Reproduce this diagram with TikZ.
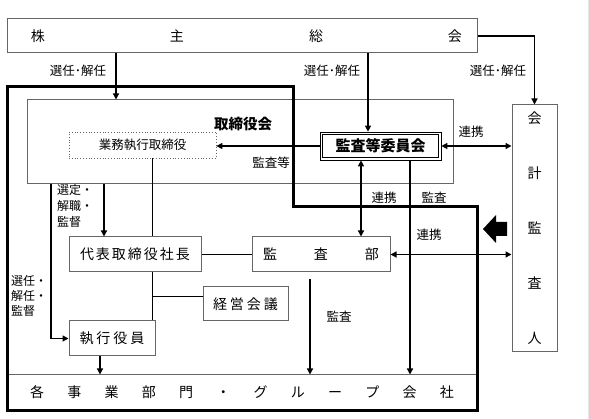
\documentclass[tikz,border=0pt]{standalone}
\usepackage{fontspec}
\setmainfont{Noto Sans CJK JP}
\usetikzlibrary{arrows.meta}
\definecolor{boxgray}{gray}{0.4}
\begin{document}
\begin{tikzpicture}[x=1pt,y=-1pt,
  bx/.style 2 args={draw=boxgray, line width=1pt, minimum width=#1, minimum height=#2, inner sep=0pt},
  lbl/.style={font=\fontsize{12.5}{15}\selectfont, inner sep=0pt},
  arr/.style={line width=1.3pt, -{Triangle[length=6pt,width=6pt]}},
  darr/.style={line width=1.3pt, {Triangle[length=6pt,width=6pt]}-{Triangle[length=6pt,width=6pt]}},
  ln/.style={line width=0.9pt},
  big/.style={font=\fontsize{14}{14}\selectfont}]
\useasboundingbox (0,0) rectangle (589,419);
\draw[black!10] (588,0) -- (588,419);
% boxes
\node[bx={470pt}{34pt}, big] (gm) at (242,36) {\makebox[440pt][s]{\hspace{9pt}株\hfil 主\hfil 総\hfil 会}};
\node[bx={426pt}{84pt}] (board) at (240,142) {};
\node[inner sep=0pt, font=\fontsize{14.5}{14.5}\selectfont\bfseries] (boardlbl) at (243,124) {取締役会};
\node[draw=boxgray, dotted, line width=0.8pt, minimum width=147pt, minimum height=26pt, inner sep=0pt, font=\fontsize{12.5}{12.5}\selectfont] (ed) at (142.5,145) {業務執行取締役};
\node[draw=black, line width=0.7pt, minimum width=121pt, minimum height=28pt, inner sep=0pt, font=\fontsize{15}{15}\selectfont\bfseries] (ac) at (380.5,146) {監査等委員会};
\draw[line width=1.6pt] ([shift={(3pt,3pt)}]ac.south west) rectangle ([shift={(-3pt,-3pt)}]ac.north east);
\node[bx={45pt}{247pt}, align=center, font=\fontsize{14}{55}\selectfont] (ca) at (534.5,228.5) {会\\計\\監\\査\\人};
\node[bx={132pt}{35pt}, big] (pres) at (135,254.5) {\makebox[110pt][s]{代\hfil 表\hfil 取\hfil 締\hfil 役\hfil 社\hfil 長}};
\node[bx={138pt}{35pt}, big] (ad) at (321,254.5) {\makebox[116pt][s]{監\hfil 査\hfil 部}};
\node[bx={85pt}{34pt}, big] (mg) at (245.5,304) {\makebox[65pt][s]{経\hfil 営\hfil 会\hfil 議}};
\node[bx={86pt}{35pt}, big] (off) at (112,338.5) {\makebox[65pt][s]{執\hfil 行\hfil 役\hfil 員}};
\node[bx={470pt}{35pt}, big] (bu) at (242,392.5) {\makebox[424pt][s]{各\hfil 事\hfil 業\hfil 部\hfil 門\hfil ・\hfil グ\hfil ル\hfil ー\hfil プ\hfil 会\hfil 社}};
% thick boundary
\draw[line width=3pt, line join=miter] (7,87) -- (293,87) -- (293,207) -- (477,207) -- (477,411) -- (7,411) -- cycle;
% column coordinates
\coordinate (c116) at (116,0);
\coordinate (c368) at (368,0);
\coordinate (c361) at (361,0);
\coordinate (c410) at (410,0);
\coordinate (c152) at (152,0);
\coordinate (c104) at (104,0);
\coordinate (c100) at (100,0);
\coordinate (k) at (51,339);
\coordinate (jn) at (152,296);
\coordinate (as) at (310,279);
% connectors
\draw[arr] (gm.south -| c116) -- (board.north -| c116);
\draw[arr] (gm.south -| c368) -- (ac.north -| c368);
\draw[arr] (gm.east) -| (ca.north);
\draw[arr] (ac.west) -- (ac.west -| ed.east);
\draw[darr] (ac.east) -- (ac.east -| ca.west);
\draw[darr] (ac.south -| c361) -- (ad.north -| c361);
\draw[arr] (ac.south -| c410) -- (bu.north -| c410);
\draw[darr] (ad.east) -- (ad.east -| ca.west);
\draw[ln] (pres.east) -- (ad.west);
\draw[ln] (ed.south -| c152) -- (pres.north -| c152);
\draw[ln] (pres.south -| c152) -- (off.north -| c152);
\draw[ln] (jn) -- (jn -| mg.west);
\draw[arr] (board.south -| c104) -- (pres.north -| c104);
\draw[arr] (board.south -| k) |- (off.west);
\draw[arr] (off.south -| c100) -- (bu.north -| c100);
\draw[arr] (as) -- (bu.north -| as);
% block arrow
\fill (483,229) -- (496,215) -- (496,222) -- (507,222) -- (507,236) -- (496,236) -- (496,243) -- cycle;
% labels
\node[lbl] (l1) at (78,71) {選任･解任};
\node[lbl] (l2) at (332,71) {選任･解任};
\node[lbl] (l3) at (498,71) {選任･解任};
\node[lbl] (l4) at (271,163) {監査等};
\node[lbl] (l5) at (471,132) {連携};
\node[lbl] (l6) at (384,198) {連携};
\node[lbl] (l7) at (434,198) {監査};
\node[lbl] (l8) at (429,235) {連携};
\node[lbl] (l9) at (339,317) {監査};
\node[lbl, anchor=north west, align=left, font=\fontsize{12}{16}\selectfont] (l10) at (57,184) {選定・\\解職・\\監督};
\node[lbl, anchor=north west, align=left, font=\fontsize{12}{15}\selectfont] (l11) at (11,275) {選任・\\解任・\\監督};
\end{tikzpicture}
\end{document}
